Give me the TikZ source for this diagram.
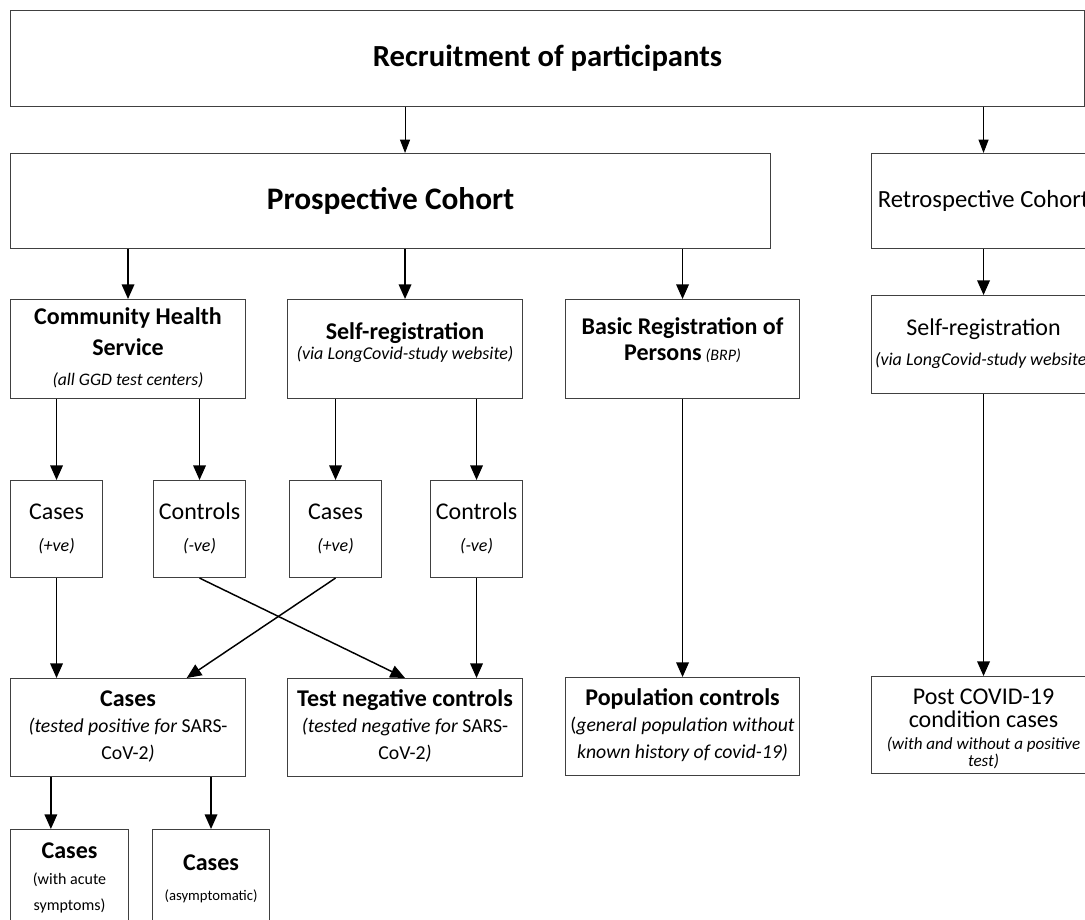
\documentclass[tikz,border=0pt]{standalone}
\usepackage{fontspec}
\setmainfont{Carlito}
\usepackage{tikz}
\usetikzlibrary{arrows.meta}
\newcommand{\hd}[1]{{\fontsize{18}{18}\selectfont\bfseries #1}}
\newcommand{\rg}[1]{{\fontsize{18}{18}\selectfont #1}}
\tikzset{
    box/.style={
           rectangle,
           draw=black!75, line width=0.8pt,
           inner sep=0pt,
           anchor=north west,
           text centered,
           },
    arr/.style={
           -{Triangle[length=11pt,width=9.5pt]},
           line width=1.1pt,
           },
    thinarr/.style={
           -{Triangle[length=10pt,width=7.5pt]},
           line width=0.75pt,
           },
}

\begin{document}
\begin{tikzpicture}[x=0.75pt,y=-0.75pt]
	\useasboundingbox (0,0) rectangle (1085,920);
	% top levels
	\node[box, minimum width=805.5pt, minimum height=72pt,
		font=\fontsize{23}{27}\selectfont\bfseries] (recruit) at (10,10) {Recruitment of participants};
	\node[box, minimum width=570pt, minimum height=71.25pt,
		font=\fontsize{23.5}{27}\selectfont\bfseries] (prosp) at (10,153) {Prospective Cohort};
	\node[box, minimum width=168pt, minimum height=71.25pt,
		font=\fontsize{18.5}{22}\selectfont] (retro) at (871,153) {Retrospective Cohort};
	% sources
	\node[box, minimum width=176.25pt, minimum height=74.25pt, font=\fontsize{13.2}{23}\selectfont] (chs) at (10,299) {
		\begin{tabular}{@{}c@{}}
		\hd{Community Health}\\
		\hd{Service}\\
		\textit{(all GGD test centers)}
		\end{tabular}
	};
	\node[box, minimum width=176.25pt, minimum height=74.25pt, font=\fontsize{13.5}{15}\selectfont] (selfreg) at (287,299) {
		\begin{tabular}{@{}c@{}}
		\hd{Self-registration}\\
		\textit{(via LongCovid-study website)}\\[8pt]
		\end{tabular}
	};
	\node[box, minimum width=175.5pt, minimum height=74.25pt, font=\fontsize{12.5}{19}\selectfont] (brp) at (565,299) {
		\begin{tabular}{@{}c@{}}
		\hd{Basic Registration of}\\
		\hd{Persons} {\fontsize{12}{12}\selectfont\itshape (BRP)}\\[10pt]
		\end{tabular}
	};
	\node[box, minimum width=168pt, minimum height=73.5pt, font=\fontsize{13.5}{22.5}\selectfont] (retroself) at (871,295) {
		\begin{tabular}{@{}c@{}}
		\rg{Self-registration}\\
		\textit{(via LongCovid-study website)}
		\end{tabular}
	};
	% test results
	\node[box, minimum width=69pt, minimum height=72.75pt, font=\fontsize{13.5}{24}\selectfont] (cases1) at (10,480) {
		\begin{tabular}{@{}c@{}} \rg{Cases}\\ \textit{(+ve)} \end{tabular}
	};
	\node[box, minimum width=69pt, minimum height=72.75pt, font=\fontsize{13.5}{24}\selectfont] (controls1) at (153,480) {
		\begin{tabular}{@{}c@{}} \rg{Controls}\\ \textit{(-ve)} \end{tabular}
	};
	\node[box, minimum width=69pt, minimum height=72.75pt, font=\fontsize{13.5}{24}\selectfont] (cases2) at (289,480) {
		\begin{tabular}{@{}c@{}} \rg{Cases}\\ \textit{(+ve)} \end{tabular}
	};
	\node[box, minimum width=69pt, minimum height=72.75pt, font=\fontsize{13.5}{24}\selectfont] (controls2) at (430,480) {
		\begin{tabular}{@{}c@{}} \rg{Controls}\\ \textit{(-ve)} \end{tabular}
	};
	% study groups
	\node[box, minimum width=176.25pt, minimum height=73.5pt, font=\fontsize{14.8}{20}\selectfont] (casespos) at (10,678) {
		\begin{tabular}{@{}c@{}}
		\hd{Cases}\\
		\textit{(tested positive for} SARS-\\
		CoV-2\textit{)}
		\end{tabular}
	};
	\node[box, minimum width=176.25pt, minimum height=73.5pt, font=\fontsize{14.8}{20}\selectfont] (testneg) at (287,678) {
		\begin{tabular}{@{}c@{}}
		\hd{Test negative controls}\\
		\textit{(tested negative for} SARS-\\
		CoV-2\textit{)}
		\end{tabular}
	};
	\node[box, minimum width=175.5pt, minimum height=73.5pt, font=\fontsize{14.8}{20}\selectfont] (popctrl) at (565,677) {
		\begin{tabular}{@{}c@{}}
		\hd{Population controls}\\
		(\textit{general population without}\\
		\textit{known history of covid-19)}
		\end{tabular}
	};
	\node[box, minimum width=168pt, minimum height=66.75pt, font=\fontsize{12.8}{16.5}\selectfont] (postcase) at (871,676) {
		\begin{tabular}{@{}c@{}}
		\rule{0pt}{21pt}\rg{Post COVID-19}\\
		\rg{condition cases}\\
		\textit{(with and without a positive}\\[-4pt]
		\textit{test)}
		\end{tabular}
	};
	% symptoms
	\node[box, minimum width=88.5pt, minimum height=75pt, font=\fontsize{12}{19.5}\selectfont] (casessymp) at (10,829) {
		\begin{tabular}{@{}c@{}} \hd{Cases}\\ (with acute\\ symptoms) \end{tabular}
	};
	\node[box, minimum width=87.75pt, minimum height=75pt, font=\fontsize{11}{22.5}\selectfont] (casesasym) at (152,829) {
		\begin{tabular}{@{}c@{}} \hd{Cases}\\ (asymptomatic) \end{tabular}
	};

	\coordinate (symptop) at ([xshift=-14pt]casessymp.north);
	\coordinate (crosstop) at ([xshift=44pt]casespos.north);

	\draw[thinarr] (selfreg.north |- recruit.south) -- (selfreg.north |- prosp.north);
	\draw[thinarr] (retro.north |- recruit.south) -- (retro.north);
	\draw[arr] (chs.north |- prosp.south) -- (chs.north);
	\draw[arr] (selfreg.north |- prosp.south) -- (selfreg.north);
	\draw[arr] (brp.north |- prosp.south) -- (brp.north);
	\draw[arr] (retro.south) -- (retroself.north);
	\draw[arr] (cases1.north |- chs.south) -- (cases1.north);
	\draw[arr] (controls1.north |- chs.south) -- (controls1.north);
	\draw[arr] (cases2.north |- selfreg.south) -- (cases2.north);
	\draw[arr] (controls2.north |- selfreg.south) -- (controls2.north);
	\draw[arr] (cases1.south) -- (cases1.south |- casespos.north);
	\draw[arr] (controls1.south) -- (testneg.north);
	\draw[arr] (cases2.south) -- (crosstop);
	\draw[arr] (controls2.south) -- (controls2.south |- testneg.north);
	\draw[arr] (brp.south) -- (popctrl.north);
	\draw[arr] (retroself.south) -- (postcase.north);
	\draw[arr] (symptop |- casespos.south) -- (symptop);
	\draw[arr] (casesasym.north |- casespos.south) -- (casesasym.north);
\end{tikzpicture}
\end{document}
